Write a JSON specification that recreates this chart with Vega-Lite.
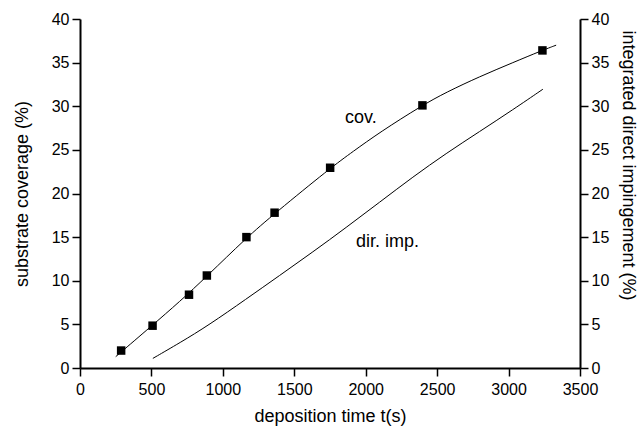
{
  "$schema": "https://vega.github.io/schema/vega-lite/v6.json",
  "width": 500,
  "height": 349,
  "autosize": {"type": "none"},
  "padding": {"left": 80, "top": 19, "right": 63, "bottom": 59},
  "background": "white",
  "config": {
    "view": {"stroke": null},
    "font": "Liberation Sans",
    "axis": {
      "grid": false,
      "domainColor": "black",
      "domainWidth": 2,
      "tickColor": "black",
      "tickWidth": 1.5,
      "tickSize": 8,
      "labelColor": "black",
      "labelFontSize": 16,
      "labelFont": "Liberation Sans",
      "labelFlush": false,
      "labelOverlap": false,
      "titleColor": "black",
      "titleFontSize": 18,
      "titleFont": "Liberation Sans",
      "titleFontWeight": "normal",
      "format": "d"
    }
  },
  "datasets": {
    "pts": [
      {"t": 288, "cov": 2.0},
      {"t": 508, "cov": 4.85},
      {"t": 763, "cov": 8.4},
      {"t": 888, "cov": 10.6},
      {"t": 1165, "cov": 15.0},
      {"t": 1362, "cov": 17.8},
      {"t": 1751, "cov": 22.95},
      {"t": 2397, "cov": 30.1},
      {"t": 3237, "cov": 36.4}
    ],
    "covcurve": [
      {"t": 250, "v": 1.3},
      {"t": 500, "v": 4.8},
      {"t": 697, "v": 7.6},
      {"t": 888, "v": 10.5},
      {"t": 1163, "v": 14.9},
      {"t": 1362, "v": 17.7},
      {"t": 1751, "v": 22.9},
      {"t": 1910, "v": 24.8},
      {"t": 2097, "v": 27.0},
      {"t": 2395, "v": 30.1},
      {"t": 2563, "v": 31.6},
      {"t": 2797, "v": 33.4},
      {"t": 3030, "v": 35.0},
      {"t": 3235, "v": 36.4},
      {"t": 3333, "v": 37.0}
    ],
    "dircurve": [
      {"t": 510, "v": 1.1},
      {"t": 700, "v": 2.9},
      {"t": 900, "v": 4.9},
      {"t": 1163, "v": 7.9},
      {"t": 1397, "v": 10.6},
      {"t": 1630, "v": 13.3},
      {"t": 1863, "v": 16.1},
      {"t": 2097, "v": 19.0},
      {"t": 2330, "v": 21.9},
      {"t": 2563, "v": 24.6},
      {"t": 2797, "v": 27.1},
      {"t": 3030, "v": 29.6},
      {"t": 3240, "v": 31.95}
    ],
    "labels": [
      {"t": 1966, "v": 28.7, "label": "cov."},
      {"t": 2153, "v": 14.4, "label": "dir. imp."}
    ]
  },
  "layer": [
    {
      "encoding": {
        "x": {
          "field": "t",
          "type": "quantitative",
          "scale": {"domain": [0, 3500], "nice": false},
          "axis": {
            "title": "deposition time t(s)",
            "values": [0, 500, 1000, 1500, 2000, 2500, 3000, 3500],
            "labelPadding": 5,
            "titlePadding": 10
          }
        }
      },
      "layer": [
        {
          "data": {"name": "covcurve"},
          "mark": {"type": "line", "color": "black", "strokeWidth": 1, "interpolate": "basis"},
          "encoding": {
            "y": {
              "field": "v",
              "type": "quantitative",
              "scale": {"domain": [0, 40], "nice": false},
              "axis": {
                "title": "substrate coverage (%)",
                "orient": "left",
                "values": [0, 5, 10, 15, 20, 25, 30, 35, 40],
                "labelPadding": 3,
                "titlePadding": 20
              }
            }
          }
        },
        {
          "data": {"name": "pts"},
          "mark": {"type": "point", "shape": "square", "filled": true, "color": "black", "size": 72, "opacity": 1},
          "encoding": {
            "y": {"field": "cov", "type": "quantitative"}
          }
        },
        {
          "data": {"name": "labels"},
          "mark": {"type": "text", "fontSize": 18, "color": "black", "font": "Liberation Sans"},
          "encoding": {
            "y": {"field": "v", "type": "quantitative"},
            "text": {"field": "label"}
          }
        }
      ]
    },
    {
      "data": {"name": "dircurve"},
      "mark": {"type": "line", "color": "black", "strokeWidth": 1, "interpolate": "basis"},
      "encoding": {
        "x": {"field": "t", "type": "quantitative"},
        "y": {
          "field": "v",
          "type": "quantitative",
          "scale": {"domain": [0, 40], "nice": false},
          "axis": {
            "title": "integrated direct impingement (%)",
            "orient": "right",
            "values": [0, 5, 10, 15, 20, 25, 30, 35, 40],
            "labelPadding": 3,
            "titlePadding": 10,
            "titleY": 146
          }
        }
      }
    }
  ],
  "resolve": {"scale": {"y": "independent"}}
}
